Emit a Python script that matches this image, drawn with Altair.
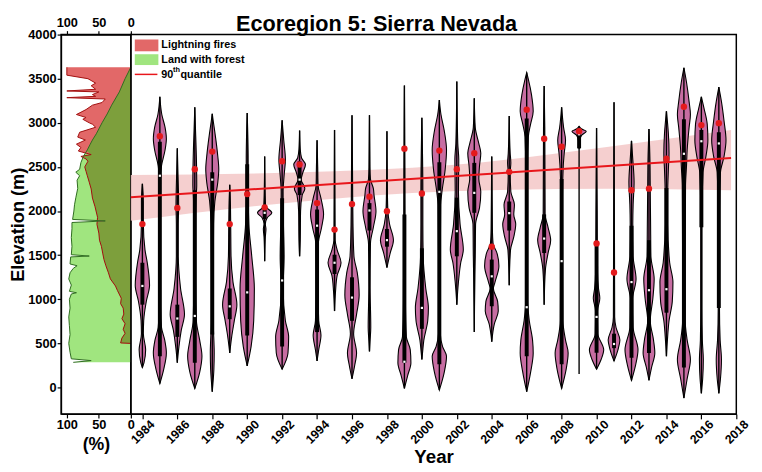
import altair as alt
import numpy as np
import pandas as pd

FONT = "Liberation Sans"
TITLE = "Ecoregion 5: Sierra Nevada"

YEARS = list(range(1984, 2018))

# violin outlines: elevation nodes (m) and relative density widths (0-22)
VIOLIN_ELEV = [
    [2309, 2108, 1852, 1560, 1414, 1158, 975, 756, 610, 427, 281, 227],
    [3295, 3094, 2948, 2820, 2692, 2510, 2364, 1500, 900, 683, 537, 391, 208, 44],
    [2711, 2500, 2071, 1852, 1487, 1122, 829, 647, 464, 281],
    [3175, 2948, 2583, 2291, 2144, 1852, 1200, 756, 537, 354, 172, -11],
    [3102, 3021, 2838, 2656, 2473, 2327, 2108, 1852, 1200, 756, 391, 208, -47],
    [2298, 2100, 1852, 1487, 1195, 939, 756, 574, 391],
    [3112, 2583, 2218, 1852, 1487, 1122, 756, 464, 245],
    [2619, 2200, 2053, 1980, 1925, 1852, 1797, 1706, 1432],
    [3028, 2802, 2583, 2400, 2218, 1852, 1487, 1122, 756, 574, 391, 208],
    [2912, 2700, 2601, 2528, 2437, 2356, 2254, 2181, 1998, 1670, 1487],
    [2802, 2500, 2291, 2144, 1962, 1816, 1633, 1122, 756, 592, 427, 300],
    [2919, 1900, 1670, 1560, 1414, 1268, 1085, 866],
    [3087, 2500, 1852, 1487, 1304, 1048, 829, 610, 391, 245, 99],
    [3087, 2500, 2364, 2254, 2181, 1998, 1816, 1633, 1122, 683, 537, 409],
    [2904, 2200, 1998, 1852, 1670, 1524, 1359],
    [3423, 2500, 1962, 1000, 574, 427, 281, 135, -11],
    [3058, 2218, 1852, 1487, 1122, 902, 756, 537, 391, 318],
    [3259, 3094, 2912, 2692, 2473, 2218, 2071, 1500, 610, 464, 354, 172, -29],
    [3467, 2765, 2583, 2218, 1852, 1560, 1414, 1195, 939],
    [3277, 2948, 2765, 2656, 2510, 2364, 2218, 2035, 1852, 1487, 1268, 628],
    [2619, 1800, 1633, 1524, 1377, 1195, 1122, 976, 866, 720, 519],
    [3076, 2656, 2546, 2437, 2218, 2071, 1962, 1852, 1706, 1560, 1158],
    [3569, 3496, 3313, 3131, 2985, 2839, 2500, 1000, 756, 537, 391, 172, -47],
    [3416, 2948, 1962, 1816, 1670, 1524, 1341, 939],
    [3175, 2948, 2802, 2656, 2510, 2200, 756, 537, 391, 208, -11],
    [2960, 2930, 2904, 2860, 2800, 2700],
    [2941, 2000, 1300, 1122, 1012, 866, 610, 427, 318, 208],
    [3233, 1500, 800, 683, 537, 427, 300],
    [2795, 2583, 2327, 2071, 1852, 1487, 1231, 1012, 683, 427, 245, 81],
    [2930, 2583, 2218, 1852, 1487, 1231, 1012, 756, 537, 391, 227, 81],
    [3131, 2875, 2656, 2473, 2218, 1852, 1414, 1195, 976, 756, 537, 354],
    [3624, 3460, 3240, 3094, 2948, 2692, 2510, 2291, 1500, 756, 537, 318, 99, -120],
    [3295, 3167, 2985, 2802, 2619, 2437, 2000, 900, 537, 318, 99, -66],
    [3405, 3240, 3021, 2802, 2619, 2437, 2000, 900, 537, 318, 99, -66],
]
VIOLIN_WIDTH = [
    [0, 3, 3, 8, 15, 22, 12, 4, 3, 10, 5, 0],
    [0, 6, 16, 20, 16, 5, 2, 1.5, 2, 5, 15, 20, 12, 0],
    [0, 1.5, 4, 3, 3, 10, 22, 12, 5, 0],
    [0, 2, 5, 6, 4, 3, 3, 5, 15, 22, 15, 0],
    [0, 3, 10, 16, 20, 17, 8, 4, 3, 3, 6, 5, 0],
    [0, 2, 3, 4, 10, 22, 14, 6, 0],
    [0, 3, 3, 5, 14, 22, 20, 12, 0],
    [0, 1.5, 3, 22, 8, 2, 4, 2, 0],
    [0, 5, 10, 6, 3, 4, 6, 3, 10, 20, 18, 0],
    [0, 2, 6, 18, 10, 5, 16, 8, 3, 2, 0],
    [0, 2, 3, 12, 20, 14, 4, 3, 5, 12, 5, 0],
    [0, 1.5, 2, 8, 20, 8, 3, 0],
    [0, 1.5, 3, 6, 16, 22, 14, 5, 14, 8, 0],
    [0, 1.5, 3, 12, 14, 20, 12, 3, 2, 4, 2, 0],
    [0, 1.5, 3, 8, 20, 10, 0],
    [0, 1.5, 2, 3, 6, 18, 20, 10, 0],
    [0, 3, 3, 4, 12, 20, 18, 6, 2, 0],
    [0, 5, 15, 22, 18, 8, 4, 3, 3, 10, 22, 15, 0],
    [0, 3, 6, 5, 10, 20, 12, 5, 0],
    [0, 3, 14, 20, 16, 14, 20, 16, 4, 3, 2, 0],
    [0, 2, 4, 16, 22, 10, 5, 18, 20, 8, 0],
    [0, 3, 5, 3, 5, 16, 14, 20, 14, 4, 0],
    [0, 5, 15, 20, 12, 5, 3, 3, 8, 18, 20, 12, 0],
    [0, 2, 3, 12, 20, 12, 4, 0],
    [0, 6, 12, 8, 5, 3, 4, 12, 20, 14, 0],
    [0, 8, 22, 8, 2, 0],
    [0, 2, 3, 6, 10, 3, 4, 22, 14, 0],
    [0, 1.5, 2, 6, 18, 12, 0],
    [0, 4, 8, 5, 4, 5, 14, 4, 5, 20, 12, 0],
    [0, 3, 4, 5, 6, 16, 12, 4, 14, 18, 8, 0],
    [0, 6, 8, 6, 4, 4, 10, 20, 18, 8, 3, 0],
    [0, 8, 16, 20, 16, 10, 8, 5, 4, 4, 10, 20, 10, 0],
    [0, 8, 18, 20, 14, 5, 2, 2, 3, 6, 4, 0],
    [0, 8, 16, 22, 16, 5, 2, 2, 4, 8, 5, 0],
]
BOX_Q3 = [1414, 2784, 939, 2236, 2440, 1122, 2530, 2017, 2144, 2564, 2017, 1505, 1249, 2090, 1797, 1962, 1578,
          2554, 2152, 2546, 1450, 2108, 3050, 1962, 2364, 2870, 1633, 610, 1834, 1670, 2261, 3039, 2919, 2893]
BOX_Q1 = [939, 354, 574, 281, 600, 774, 590, 1907, 464, 2181, 628, 1286, 756, 1779, 1596, 281, 665,
          263, 1487, 1980, 921, 1779, 354, 1524, 263, 2710, 394, 446, 336, 391, 848, 227, 1816, 902]
MEDIAN = [1151, 2400, 782, 811, 2356, 920, 1078, 1980, 1213, 2356, 1834, 1414, 1019, 2006, 1670, 292, 902,
          2218, 1772, 2206, 1260, 1976, 910, 1688, 1432, 2870, 800, 493, 1195, 1103, 1114, 2649, 2791, 2766]
Q90 = [1852, 2849, 2035, 2473, 2674, 1852, 2192, 2042, 2564, 2528, 2090, 1790, 2079, 2163, 1998, 2707, 2199,
       2685, 2473, 2656, 1596, 2444, 3149, 2820, 2729, 2904, 1633, 1304, 2236, 2254, 2594, 3182, 2974, 2996]
WHISK_LO = [227, 44, 281, -11, -47, 391, 245, 1432, 208, 1487, 300, 866, 99, 409, 1359, -11, 318,
            -29, 939, 628, 519, 1158, -47, 939, -11, 154, 208, 300, 81, 81, 354, -120, -66, -66]
WHISK_HI = [2309, 3295, 2711, 3175, 3102, 2298, 3112, 2619, 3028, 2912, 2802, 2919, 3087, 3087, 2904, 3423, 3058,
            3259, 3467, 3277, 2619, 3076, 3569, 3416, 3175, 2960, 2941, 3233, 2795, 2930, 3131, 3624, 3295, 3405]

# 90th quantile trend and its confidence band
LINE_YEARS = [1983.34, 2017.7]
LINE_ELEV = [2156, 2601]
BAND_YEARS = [1983.34, 1992.7, 2001.7, 2010.7, 2017.7]
BAND_LO = [1889, 2100, 2225, 2254, 2236]
BAND_HI = [2408, 2437, 2522, 2729, 2919]

# side panel profiles (% by elevation)
FOREST_ELEV = [285, 305, 325, 400, 500, 600, 700, 800, 900, 1000, 1060, 1074, 1090, 1161, 1230, 1300, 1350, 1380,
               1400, 1480, 1490, 1505, 1600, 1700, 1800, 1870, 1888, 1905, 2000, 2071, 2150, 2257, 2350, 2400,
               2440, 2473, 2550, 2620, 2693, 2750, 2805, 2875, 3000, 3100, 3200, 3350, 3500, 3630]
FOREST_PCT = [90, 62, 93, 95, 97, 95, 96, 97, 95, 96, 93, 85, 96, 93, 97, 95, 90, 84,
              95, 94, 65, 93, 92, 93, 92, 92, 40, 91, 89, 88, 86, 83, 84, 80,
              86, 80, 78, 74, 68, 64, 60, 54, 45, 37, 30, 18, 9, 0]
FIRE_ELEV = [500, 505, 560, 614, 660, 723, 780, 832, 900, 950, 1012, 1100, 1150, 1231, 1300, 1380, 1450, 1523,
             1600, 1669, 1750, 1850, 1929, 2050, 2147, 2250, 2327, 2400, 2450, 2500, 2565, 2590, 2619, 2640,
             2680, 2720, 2758, 2805, 2838, 2893, 2950, 2984, 3000, 3040, 3060, 3094, 3150, 3200, 3230, 3270,
             3285, 3300, 3320, 3350, 3361, 3380, 3420, 3450, 3500, 3540, 3630]
FIRE_PCT = [0, 16, 14, 9, 12, 9, 14, 11, 12, 16, 15, 21, 24, 32, 35, 39, 42, 44,
            46, 49, 50, 53, 52, 56, 60, 62, 65, 68, 70, 72, 67, 70, 78, 62,
            82, 78, 85, 71, 83, 80, 55, 60, 65, 75, 70, 85, 70, 60, 45, 40,
            100, 55, 60, 50, 100, 55, 62, 55, 67, 100, 100]

Y_TICKS = list(range(0, 4001, 500))
X_TICKS = list(range(1984, 2019, 2))
PCT_TICKS = [0, 50, 100]

# ---------------- data frames ----------------
W_MAX = 0.41
vrows = []
for yr, elevs, ws in zip(YEARS, VIOLIN_ELEV, VIOLIN_WIDTH):
    for e, w in zip(elevs, ws):
        hw = w / 22.0 * W_MAX
        vrows.append({"year": yr, "elev": e, "lo": yr - hw, "hi": yr + hw})
vdf = pd.DataFrame(vrows)
sdf = pd.DataFrame({"year": YEARS, "q1": BOX_Q1, "q3": BOX_Q3, "med": MEDIAN, "q90": Q90,
                    "wlo": WHISK_LO, "whi": WHISK_HI})
ldf = pd.DataFrame({"year": LINE_YEARS, "elev": LINE_ELEV})
bdf = pd.DataFrame({"year": BAND_YEARS, "lo": BAND_LO, "hi": BAND_HI})

forest_df = pd.DataFrame({"elev": FOREST_ELEV, "pct": FOREST_PCT})
fire_df = pd.DataFrame({"elev": FIRE_ELEV, "pct": FIRE_PCT})
grid = np.union1d(FOREST_ELEV, FIRE_ELEV)
ov = np.minimum(np.interp(grid, FOREST_ELEV, FOREST_PCT, left=0, right=0),
                np.interp(grid, FIRE_ELEV, FIRE_PCT, left=0, right=0))
ov_df = pd.DataFrame({"elev": grid, "pct": ov})
one = pd.DataFrame({"k": [0]})

H = 386
W_MAIN = 616
W_LEFT = 71

ys = alt.Scale(domain=[-300, 4000], nice=False, zero=False)
xs = alt.Scale(domain=[1983.34, 2018], nice=False, zero=False)
ps = alt.Scale(domain=[0, 109], nice=False, reverse=True)

x_axis = alt.Axis(values=X_TICKS, labelAngle=-45, labelAlign="center", labelBaseline="middle",
                  labelPadding=13, tickSize=5, format="d", title="Year", titlePadding=2,
                  labelFontSize=12.5, labelFlush=False, labelOverlap=False)


def X(field):
    return alt.X(field, type="quantitative", scale=xs, axis=x_axis, title="Year", stack=None)


def Yn(field):
    return alt.Y(field, type="quantitative", scale=ys, axis=None)


band = alt.Chart(bdf).mark_area(color="#f4caca", opacity=0.9, orient="vertical",
                                interpolate="monotone").encode(x=X("year"), y=Yn("lo"), y2="hi")
violins = alt.Chart(vdf).mark_area(orient="horizontal", interpolate="monotone", fill="#c76da2",
                                   fillOpacity=1, stroke="black", strokeWidth=1.1).encode(
    y=Yn("elev"), x=X("lo"), x2="hi", detail="year:N")
whisk = alt.Chart(sdf).mark_rule(color="black", strokeWidth=1.4).encode(x=X("year"), y=Yn("wlo"), y2="whi")
box = alt.Chart(sdf).mark_rule(color="black", strokeWidth=4).encode(x=X("year"), y=Yn("q3"), y2="q1")
med = alt.Chart(sdf).mark_square(color="white", size=5, opacity=1).encode(x=X("year"), y=Yn("med"))
line = alt.Chart(ldf).mark_line(color="#e8161b", strokeWidth=2).encode(x=X("year"), y=Yn("elev"))
dots = alt.Chart(sdf).mark_circle(color="#e41a1c", size=42, opacity=1).encode(x=X("year"), y=Yn("q90"))

leg_r = alt.Chart(one).mark_rect(color="#e26868").encode(
    x=alt.value(4), x2=alt.value(28), y=alt.value(5), y2=alt.value(17))
leg_g = alt.Chart(one).mark_rect(color="#a0e57f").encode(
    x=alt.value(4), x2=alt.value(28), y=alt.value(20), y2=alt.value(31))
leg_l = alt.Chart(one).mark_rule(color="#e8161b", strokeWidth=1.5).encode(
    x=alt.value(4), x2=alt.value(27), y=alt.value(40.5))
tkw = dict(align="left", baseline="middle", font=FONT, fontWeight="bold", color="black")
leg_t1 = alt.Chart(one).mark_text(text="Lightning fires", fontSize=11, **tkw).encode(
    x=alt.value(31), y=alt.value(11))
leg_t2 = alt.Chart(one).mark_text(text="Land with forest", fontSize=11, **tkw).encode(
    x=alt.value(31), y=alt.value(26))
leg_t3 = alt.Chart(one).mark_text(text="90", fontSize=11, **tkw).encode(x=alt.value(31), y=alt.value(41))
leg_t4 = alt.Chart(one).mark_text(text="th", fontSize=7.5, **tkw).encode(x=alt.value(43), y=alt.value(36))
leg_t5 = alt.Chart(one).mark_text(text="quantile", fontSize=11, **tkw).encode(x=alt.value(50.5), y=alt.value(41))
title = alt.Chart(one).mark_text(text=TITLE, fontSize=22, align="center", baseline="top",
                                 font=FONT, fontWeight="bold", color="black").encode(
    x=alt.value(250), y=alt.value(-21))

main = alt.layer(band, violins, whisk, box, med, line, dots,
                 leg_r, leg_g, leg_l, leg_t1, leg_t2, leg_t3, leg_t4, leg_t5, title).properties(
    width=W_MAIN, height=H)

# ---------------- left panel ----------------
y_axis = alt.Axis(values=Y_TICKS, title="Elevation (m)", titlePadding=0, tickSize=4, labelPadding=1,
                  format="d", titleFontSize=18.5)


def YL(field):
    return alt.Y(field, type="quantitative", scale=ys, axis=y_axis, title="Elevation (m)")


bottom_axis = alt.Axis(values=PCT_TICKS, orient="bottom", title="(%)", tickSize=4, labelPadding=1,
                       titlePadding=4, titleFontSize=18, labelFlush=False)
top_axis = alt.Axis(values=PCT_TICKS, orient="top", title=None, tickSize=4, labelPadding=1, labelFlush=False)

g_area = alt.Chart(forest_df).mark_area(orient="horizontal", color="#a0e57f", opacity=1).encode(
    y=YL("elev"), x=alt.X("pct:Q", scale=ps, axis=bottom_axis, stack=None))
r_area = alt.Chart(fire_df).mark_area(orient="horizontal", color="#e26868", opacity=1).encode(
    y=YL("elev"), x=alt.X("pct:Q", scale=ps, axis=top_axis, stack=None))
o_area = alt.Chart(ov_df).mark_area(orient="horizontal", color="#7d9f3c", opacity=1).encode(
    y=YL("elev"), x=alt.X("pct:Q", scale=ps, axis=None, stack=None))
r_line = alt.Chart(fire_df).mark_line(color="#a10e0e", strokeWidth=1).encode(
    y=YL("elev"), x=alt.X("pct:Q", scale=ps, axis=None), order="elev:Q")
g_line = alt.Chart(forest_df).mark_line(color="#2e6b20", strokeWidth=1).encode(
    y=YL("elev"), x=alt.X("pct:Q", scale=ps, axis=None), order="elev:Q")

left = alt.layer(g_area, r_area, o_area, r_line, g_line).resolve_axis(x="independent").properties(
    width=W_LEFT, height=H)

chart = alt.hconcat(left, main, spacing=0, bounds="flush").properties(
    padding={"left": 0, "top": 0, "right": 2, "bottom": 0}
).configure_view(stroke="black", strokeWidth=1.5).configure_axis(
    labelFont=FONT, titleFont=FONT, labelFontWeight="bold", titleFontWeight="bold",
    labelColor="black", titleColor="black", domainColor="black", tickColor="black",
    labelFontSize=13, titleFontSize=19, domainWidth=1.2, tickWidth=1.2, grid=False
).configure_text(font=FONT)

chart.save("out.html", embed_options={"renderer": "svg", "actions": False})
